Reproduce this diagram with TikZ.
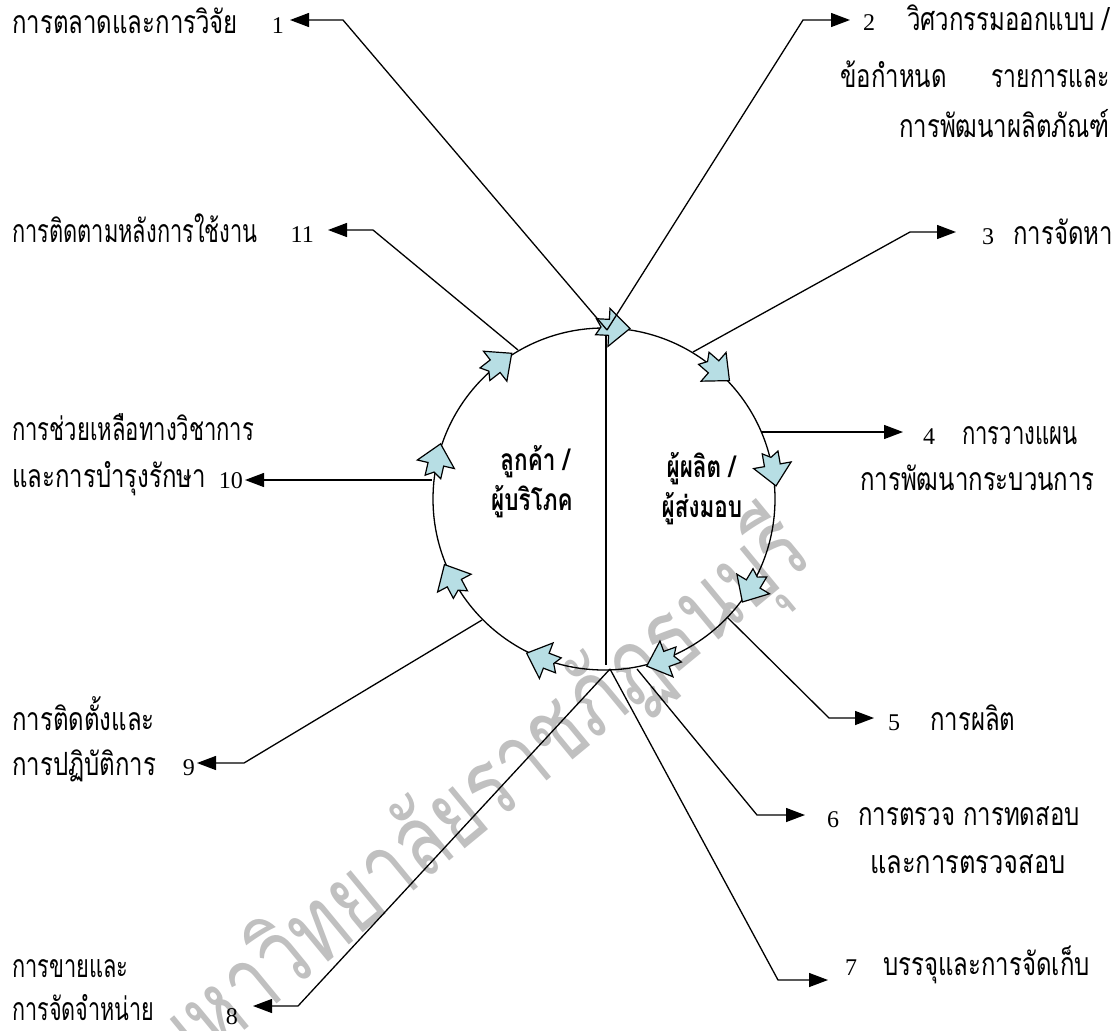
\documentclass[tikz,border=0pt]{standalone}
\usepackage{graphicx}
\usepackage{fontspec}
\setmainfont{Liberation Serif}
\newfontfamily\thfont[Script=Thai,FakeStretch=0.75]{Loma}
\usetikzlibrary{arrows.meta}
\definecolor{arrowfill}{RGB}{183,222,228}
\definecolor{markgray}{RGB}{192,192,192}
% horizontal squeeze of one label
\newcommand{\fitx}[2]{\scalebox{#1}[1]{#2}}
\begin{document}
\begin{tikzpicture}[x=1pt,y=-1pt,
  link/.style={line width=1.3pt, line join=miter},
  tip/.style={link, -{Triangle[length=19pt,width=14pt]}},
  flow/.style={draw, line width=1.2pt, fill=arrowfill, line join=miter},
  lbl/.style={font=\thfont\fontsize{32}{32}\selectfont, inner sep=0pt},
  num/.style={font=\fontsize{24}{24}\selectfont, inner sep=0pt},
  hub/.style={font=\thfont\bfseries\fontsize{30}{30}\selectfont, inner sep=0pt, anchor=base}
]
\useasboundingbox (0,0) rectangle (1118,1030);
\fill[white] (0,0) rectangle (1118,1030);
\clip (0,0) rectangle (1118,1030);

% watermark
\node[font=\thfont\fontsize{100}{100}\selectfont, text=markgray, rotate=39.5, inner sep=0pt] (mark) at (478,800) {มหาวิทยาลัยราชภัฏธนบุรี};

% the wheel
\node[draw, circle, minimum size=342pt, line width=1.3pt, inner sep=0pt] (wheel) at (604,499) {};
\coordinate (axisTop) at (606,336);
\coordinate (axisBot) at (606,665);
\draw[link] (axisTop) -- (axisBot);

% flow arrows around the wheel
\foreach \a in {87,49,10,-31,-70,-111,-152,167,128}
  \draw[flow, shift={(wheel.\a)}, rotate=\a-90]
    (17,0) -- (-4,19) -- (-4,8) -- (-17,8) -- (-12,0) -- (-17,-8) -- (-4,-8) -- (-4,-19) -- cycle;

% texts inside the wheel
\node[hub] (cust1) at (535,470) {ลูกค้า /};
\node[hub] (cust2) at (532,510) {ผู้บริโภค};
\node[hub] (prod1) at (701,477) {ผู้ผลิต /};
\node[hub] (prod2) at (702,517) {ผู้ส่งมอบ};

% connection points
\coordinate (top) at (607,330);
\coordinate (c3) at (693,352);
\coordinate (c4) at (762,432);
\coordinate (c5) at (727,617);
\coordinate (c6) at (637,669);
\coordinate (bot) at (610,669);
\coordinate (c9) at (482,620);
\coordinate (c10) at (432,480);
\coordinate (c11) at (518,350);

% elbows and tips
\coordinate (e1) at (343,20);  \coordinate (t1) at (290,20);
\coordinate (e2) at (803,20);  \coordinate (t2) at (850,20);
\coordinate (e3) at (910,232); \coordinate (t3) at (956,232);
\coordinate (t4) at (903,432);
\coordinate (e5) at (829,718); \coordinate (t5) at (874,718);
\coordinate (e6) at (757,815); \coordinate (t6) at (805,815);
\coordinate (e7) at (778,980); \coordinate (t7) at (828,980);
\coordinate (e8) at (298,1006); \coordinate (t8) at (253,1006);
\coordinate (e9) at (244,763); \coordinate (t9) at (197,763);
\coordinate (t10) at (245,480);
\coordinate (e11) at (373,230); \coordinate (t11) at (328,230);

\draw[tip] (top) -- (e1) -- (t1);
\draw[tip] (top) -- (e2) -- (t2);
\draw[tip] (c3) -- (e3) -- (t3);
\draw[tip] (c4) -- (t4);
\draw[tip] (c5) -- (e5) -- (t5);
\draw[tip] (c6) -- (e6) -- (t6);
\draw[tip] (bot) -- (e7) -- (t7);
\draw[tip] (bot) -- (e8) -- (t8);
\draw[tip] (c9) -- (e9) -- (t9);
\draw[tip] (c10) -- (t10);
\draw[tip] (c11) -- (e11) -- (t11);

% left column
\node[lbl, anchor=base west] (l1) at (12,34) {การตลาดและการวิจัย};
\node[num, anchor=base east] (n1) at (284,34) {1};
\node[lbl, anchor=base west] (l11) at (12,242) {\fitx{0.91}{การติดตามหลังการใช้งาน}};
\node[num, anchor=base east] (n11) at (314,242) {11};
\node[lbl, anchor=base west] (l10a) at (12,440) {\fitx{0.92}{การช่วยเหลือทางวิชาการ}};
\node[lbl, anchor=base west] (l10b) at (12,487) {และการบำรุงรักษา};
\node[num, anchor=base east] (n10) at (243,488) {10};
\node[lbl, anchor=base west] (l9a) at (12,730) {การติดตั้งและ};
\node[lbl, anchor=base west] (l9b) at (12,775) {การปฏิบัติการ};
\node[num, anchor=base east] (n9) at (195,775) {9};
\node[lbl, anchor=base west] (l8a) at (12,977) {\fitx{0.91}{การขายและ}};
\node[lbl, anchor=base west] (l8b) at (12,1020) {\fitx{0.9}{การจัดจำหน่าย}};
\node[num, anchor=base east] (n8) at (238,1024) {8};

% right column
\node[num, anchor=base west] (n2) at (863,31) {2};
\node[lbl, anchor=base east] (l2a) at (1110,31) {วิศวกรรมออกแบบ /};
\node[lbl, anchor=base west] (l2b) at (840,88) {ข้อกำหนด};
\node[lbl, anchor=base east] (l2c) at (1110,88) {\fitx{0.95}{รายการและ}};
\node[lbl, anchor=base east] (l2d) at (1110,137) {การพัฒนาผลิตภัณฑ์};
\node[num, anchor=base west] (n3) at (982,244) {3};
\node[lbl, anchor=base west] (l3) at (1013,244) {การจัดหา};
\node[num, anchor=base west] (n4) at (923,444) {4};
\node[lbl, anchor=base west] (l4a) at (962,444) {\fitx{0.92}{การวางแผน}};
\node[lbl, anchor=base west] (l4b) at (860,490) {การพัฒนากระบวนการ};
\node[num, anchor=base west] (n5) at (888,730) {5};
\node[lbl, anchor=base west] (l5) at (930,730) {การผลิต};
\node[num, anchor=base west] (n6) at (827,827) {6};
\node[lbl, anchor=base west] (l6a) at (858,825) {การตรวจ การทดสอบ};
\node[lbl, anchor=base west] (l6b) at (870,873) {\fitx{1.06}{และการตรวจสอบ}};
\node[num, anchor=base west] (n7) at (845,975) {7};
\node[lbl, anchor=base west] (l7) at (883,975) {บรรจุและการจัดเก็บ};
\end{tikzpicture}
\end{document}
